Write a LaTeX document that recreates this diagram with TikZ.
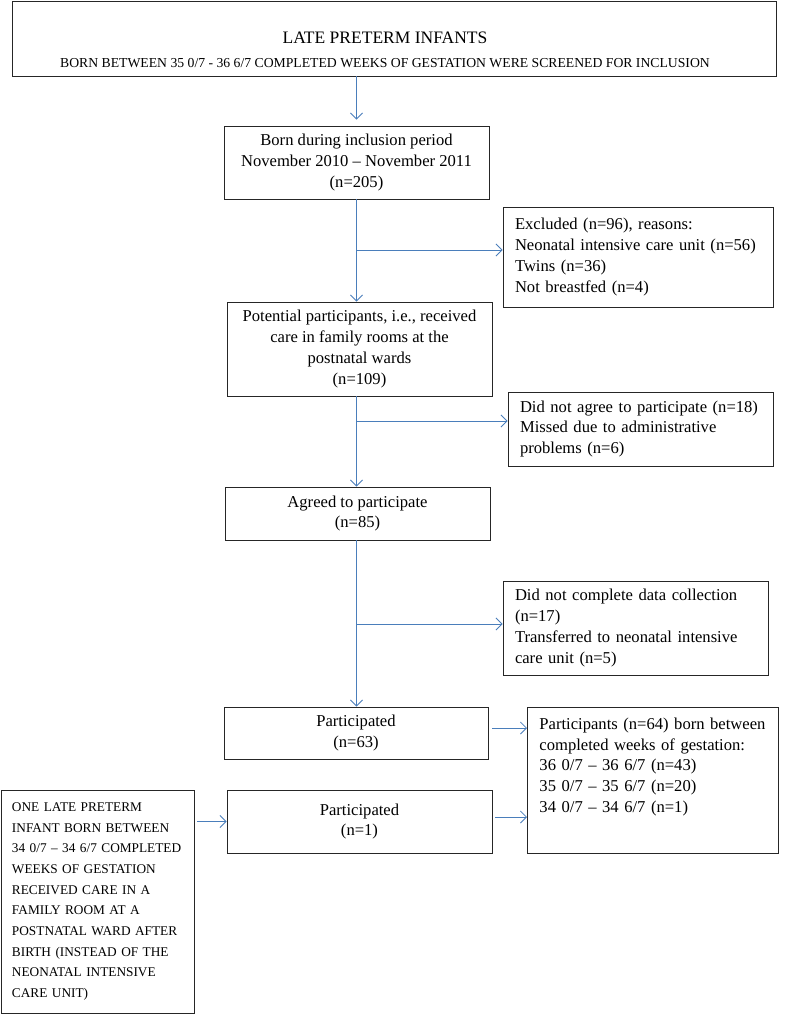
\documentclass[tikz,border=0pt]{standalone}
\usepackage{fontspec}
\setmainfont{Liberation Serif}
\usetikzlibrary{positioning, arrows.meta, calc}
\definecolor{flowblue}{HTML}{4A7EBB}

\begin{document}
\begin{tikzpicture}[x=1pt, y=-1pt,
    box/.style={draw=black!85, line width=0.9pt, rectangle, inner sep=0pt,
                font=\fontsize{16.6}{20.7}\selectfont, align=center},
    sidebox/.style={box, align=left, inner xsep=12pt, text width=#1},
    capsbox/.style={box, align=left, inner xsep=11pt, text width=#1,
                font=\fontsize{13.3}{20.7}\selectfont},
    flow/.style={draw=flowblue, line width=0.8pt, -{Straight Barb[length=6pt, width=12pt]}}]
        \fill[white] (0,0) rectangle (792,1014);

        % main column
        \node[box, minimum width=764pt, minimum height=75pt] (top) at (394,38.5) {};
        \node[align=center, font=\fontsize{17.5}{22}\selectfont] (title) at (385,50)
          {LATE PRETERM INFANTS\\[2pt]
           {\fontsize{13.7}{22}\selectfont BORN BETWEEN 35 0/7 - 36 6/7 COMPLETED WEEKS OF GESTATION WERE SCREENED FOR INCLUSION}};
        \node[box, minimum width=265pt, minimum height=73pt] (born)      at (356.5,162.5)
          {Born during inclusion period\\November 2010 – November 2011\\(n=205)};
        \node[box, minimum width=265pt, minimum height=94pt] (potential) at (359.5,349)
          {Potential participants, i.e., received\\care in family rooms at the\\postnatal wards\\(n=109)};
        \node[box, minimum width=265pt, minimum height=53pt] (agreed)    at (357.5,513.5)
          {Agreed to participate\\(n=85)};
        \node[box, minimum width=264pt, minimum height=52pt] (n63)       at (356,733)
          {Participated\\(n=63)};
        \node[box, minimum width=265pt, minimum height=63pt] (n1)        at (359.5,821.5)
          {Participated\\(n=1)};

        % side boxes
        \node[sidebox=246pt, minimum width=270pt, minimum height=100pt] (excl) at (638,257)
          {Excluded (n=96), reasons:\\Neonatal intensive care unit (n=56)\\Twins (n=36)\\Not breastfed (n=4)};
        \node[sidebox=241pt, minimum width=265pt, minimum height=74pt] (didnot) at (640.5,429)
          {Did not agree to participate (n=18)\\Missed due to administrative\\problems (n=6)};
        \node[sidebox=241pt, minimum width=265pt, minimum height=94pt] (incompl) at (635.5,628)
          {Did not complete data collection\\(n=17)\\Transferred to neonatal intensive\\care unit (n=5)};
        \node[sidebox=227pt, text height=22pt, text depth=124pt, anchor=north west] (partic) at (527,707)
          {Participants (n=64) born between\\completed weeks of gestation:\\36 0/7 – 36 6/7 (n=43)\\35 0/7 – 35 6/7 (n=20)\\34 0/7 – 34 6/7 (n=1)};
        \node[capsbox=171pt, minimum width=193pt, minimum height=223pt] (extra) at (97.5,901.5)
          {ONE LATE PRETERM\\INFANT BORN BETWEEN\\34 0/7 – 34 6/7 COMPLETED\\WEEKS OF GESTATION\\RECEIVED CARE IN A\\FAMILY ROOM AT A\\POSTNATAL WARD AFTER\\BIRTH (INSTEAD OF THE\\NEONATAL INTENSIVE\\CARE UNIT)};

        \coordinate (j1) at (356.5,250);
        \coordinate (j2) at (356.5,421);
        \coordinate (j3) at (356.5,624);

        \draw[flow, shorten >=6pt] (top.south -| born.north) -- (born.north);
        \draw[flow] (born.south) -- (born.south |- potential.north);
        \draw[flow] (j1) -- (j1 -| excl.west);
        \draw[flow] (born.south |- potential.south) -- (born.south |- agreed.north);
        \draw[flow] (j2) -- (j2 -| didnot.west);
        \draw[flow] (born.south |- agreed.south) -- (born.south |- n63.north);
        \draw[flow] (j3) -- (j3 -| incompl.west);
        \draw[flow, shorten <=4pt] ([yshift=5pt]n63.east) -- ([yshift=5pt]n63.east -| partic.west);
        \draw[flow, shorten <=3pt] ([yshift=4.5pt]n1.east) -- ([yshift=4.5pt]n1.east -| partic.west);
        \draw[flow, shorten <=3pt] (extra.east |- n1.west) -- (n1.west);
\end{tikzpicture}
\end{document}
